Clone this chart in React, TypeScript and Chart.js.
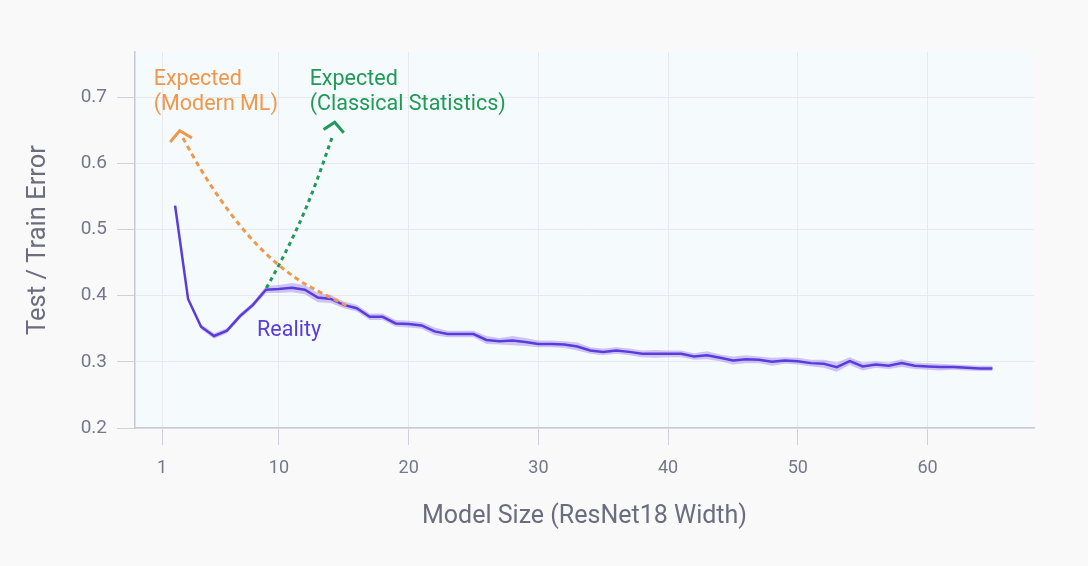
import React, { useEffect, useRef } from "react";
import { Chart, registerables } from "chart.js";

Chart.register(...registerables);

// ---- data ----
const widths = [
  2, 3, 4, 5, 6, 7, 8, 9, 10, 11, 12, 13, 14, 15, 16, 17, 18, 19, 20, 21, 22, 23, 24, 25, 26, 27, 28, 29, 30, 31, 32, 33,
  34, 35, 36, 37, 38, 39, 40, 41, 42, 43, 44, 45, 46, 47, 48, 49, 50, 51, 52, 53, 54, 55, 56, 57, 58, 59, 60, 61, 62, 63, 64, 65,
];
const testError = [
  0.536, 0.395, 0.353, 0.339, 0.347, 0.369, 0.386, 0.409, 0.41, 0.412, 0.409, 0.397, 0.395, 0.386, 0.381, 0.368,
  0.368, 0.358, 0.357, 0.355, 0.346, 0.342, 0.342, 0.342, 0.333, 0.331, 0.332, 0.33, 0.327, 0.327, 0.326, 0.323,
  0.317, 0.315, 0.317, 0.315, 0.312, 0.312, 0.312, 0.312, 0.308, 0.31, 0.306, 0.302, 0.304, 0.303, 0.3, 0.302,
  0.301, 0.298, 0.297, 0.292, 0.301, 0.293, 0.296, 0.294, 0.298, 0.294, 0.293, 0.292, 0.292, 0.291, 0.29, 0.29,
];
const errorSpread = [
  0.002, 0.003, 0.004, 0.004, 0.004, 0.004, 0.004, 0.005, 0.006, 0.007, 0.007, 0.007, 0.006, 0.005, 0.005, 0.005,
  0.005, 0.005, 0.005, 0.005, 0.006, 0.005, 0.005, 0.005, 0.006, 0.005, 0.007, 0.006, 0.005, 0.005, 0.005, 0.006,
  0.005, 0.005, 0.005, 0.005, 0.005, 0.006, 0.005, 0.005, 0.005, 0.006, 0.005, 0.006, 0.006, 0.005, 0.006, 0.005,
  0.005, 0.005, 0.006, 0.007, 0.006, 0.006, 0.005, 0.005, 0.006, 0.005, 0.005, 0.005, 0.004, 0.004, 0.004, 0.004,
];
const xTickValues = [1, 10, 20, 30, 40, 50, 60];
const yTickValues = [0.2, 0.3, 0.4, 0.5, 0.6, 0.7];

const modernX = [2.6, 4, 5.5, 7, 8.5, 10, 11.5, 13, 15.2];
const modernY = [0.638, 0.59, 0.545, 0.506, 0.473, 0.446, 0.424, 0.407, 0.385];
const classicalX = [9.04, 10, 11, 12, 13, 14.17];
const classicalY = [0.4115, 0.446, 0.485, 0.528, 0.578, 0.643];
const modernArrowX = [1.62, 2.36, 3.3];
const modernArrowY = [0.632, 0.649, 0.638];
const classicalArrowX = [13.45, 14.3, 15.0];
const classicalArrowY = [0.651, 0.662, 0.646];

const modernLabel = ["Expected", "(Modern ML)"];
const classicalLabel = ["Expected", "(Classical Statistics)"];
const realityLabel = ["Reality"];

// ---- styles ----
const PURPLE = "#5a3cdc";
const ORANGE = "#f0974b";
const GREEN = "#1f9a57";
const FONT = "Roboto, 'Noto Sans', sans-serif";

const notes = [
  { lines: modernLabel, x: 0.35, y: 0.7186, color: ORANGE },
  { lines: classicalLabel, x: 12.37, y: 0.7186, color: GREEN },
  { lines: realityLabel, x: 8.32, y: 0.3384, color: PURPLE },
];

const pts = (xs: number[], ys: number[]) => xs.map((x, i) => ({ x, y: ys[i] }));

export default function App() {
  const ref = useRef<HTMLCanvasElement | null>(null);

  useEffect(() => {
    if (!ref.current) return;

    const bgPlugin = {
      id: "bg",
      beforeDraw(chart: any) {
        const { ctx, chartArea } = chart;
        ctx.save();
        ctx.fillStyle = "#f9f9fa";
        ctx.fillRect(0, 0, chart.width, chart.height);
        ctx.fillStyle = "#f5fbfc";
        ctx.fillRect(chartArea.left, chartArea.top, chartArea.right - chartArea.left, chartArea.bottom - chartArea.top);
        ctx.restore();
      },
    };

    const notePlugin = {
      id: "notes",
      afterDatasetsDraw(chart: any) {
        const { ctx, scales } = chart;
        ctx.save();
        ctx.font = `21.5px ${FONT}`;
        ctx.textAlign = "left";
        ctx.textBaseline = "alphabetic";
        notes.forEach((n) => {
          const px = scales.x.getPixelForValue(n.x);
          const py = scales.y.getPixelForValue(n.y);
          ctx.fillStyle = n.color;
          n.lines.forEach((l, i) => ctx.fillText(l, px, py + i * 25));
        });
        ctx.restore();
      },
    };

    const upper = widths.map((x, i) => ({ x, y: testError[i] + errorSpread[i] }));
    const lower = widths.map((x, i) => ({ x, y: testError[i] - errorSpread[i] }));

    const chart = new Chart(ref.current, {
      type: "line",
      data: {
        datasets: [
          {
            data: pts(modernX, modernY),
            borderColor: ORANGE,
            borderWidth: 3,
            borderDash: [5, 4],
            cubicInterpolationMode: "monotone",
            pointRadius: 0,
            fill: false,
            order: 0,
          } as any,
          {
            data: pts(classicalX, classicalY),
            borderColor: GREEN,
            borderWidth: 3,
            borderDash: [4, 4],
            cubicInterpolationMode: "monotone",
            pointRadius: 0,
            fill: false,
            order: 0,
          },
          {
            data: pts(modernArrowX, modernArrowY),
            borderColor: ORANGE,
            borderWidth: 3,
            pointRadius: 0,
            tension: 0,
            fill: false,
            order: 0,
          },
          {
            data: pts(classicalArrowX, classicalArrowY),
            borderColor: GREEN,
            borderWidth: 3,
            pointRadius: 0,
            tension: 0,
            fill: false,
            order: 0,
          },
          {
            data: pts(widths, testError),
            borderColor: PURPLE,
            borderWidth: 2.5,
            pointRadius: 0,
            tension: 0,
            fill: false,
            order: 1,
          },
          {
            data: upper,
            borderWidth: 0,
            borderColor: "rgba(0,0,0,0)",
            backgroundColor: "rgba(150,120,235,0.42)",
            pointRadius: 0,
            tension: 0,
            fill: "+1",
            order: 2,
          },
          {
            data: lower,
            borderWidth: 0,
            borderColor: "rgba(0,0,0,0)",
            pointRadius: 0,
            tension: 0,
            fill: false,
            order: 2,
          },
        ],
      },
      options: {
        animation: false,
        responsive: false,
        events: [],
        layout: { padding: { top: 52, right: 54, left: 0, bottom: 0 } },
        plugins: { legend: { display: false }, tooltip: { enabled: false } },
        scales: {
          x: {
            type: "linear",
            min: -1.09,
            max: 68.2,
            afterFit: (s: any) => {
              s.height = 138;
            },
            afterBuildTicks: (s: any) => {
              s.ticks = xTickValues.map((v) => ({ value: v }));
            },
            grid: { color: "#e8e9ee", tickColor: "#cfd0d9", tickLength: 17, lineWidth: 1 },
            border: { color: "#c8c9d3", width: 1.5 },
            ticks: {
              color: "#77778a",
              font: { family: FONT, size: 18 },
              padding: 13,
              maxRotation: 0,
              callback: (v: any) => String(v),
            },
            title: {
              display: true,
              text: "Model Size (ResNet18 Width)",
              color: "#6c6c7e",
              font: { family: FONT, size: 25 },
              padding: { top: 0, bottom: 34 },
            },
          },
          y: {
            type: "linear",
            min: 0.2,
            max: 0.768,
            afterFit: (s: any) => {
              s.width = 135;
            },
            afterBuildTicks: (s: any) => {
              s.ticks = yTickValues.map((v) => ({ value: v }));
            },
            grid: { color: "#e8e9ee", tickColor: "#cfd0d9", tickLength: 18, lineWidth: 1 },
            border: { color: "#c8c9d3", width: 1.5 },
            ticks: {
              color: "#77778a",
              font: { family: FONT, size: 19 },
              padding: 10,
              callback: (v: any) => Number(v).toFixed(1),
            },
            title: {
              display: true,
              text: "Test / Train Error",
              color: "#6c6c7e",
              font: { family: FONT, size: 25.5 },
              padding: { top: 23, bottom: 0 },
            },
          },
        },
      },
      plugins: [bgPlugin, notePlugin],
    });

    return () => chart.destroy();
  }, []);

  return (
    <div style={{ position: "fixed", left: 0, top: 0, width: 1088, height: 566, background: "#f9f9fa" }}>
      <canvas ref={ref} width={1088} height={566} style={{ width: 1088, height: 566, display: "block" }} />
    </div>
  );
}
